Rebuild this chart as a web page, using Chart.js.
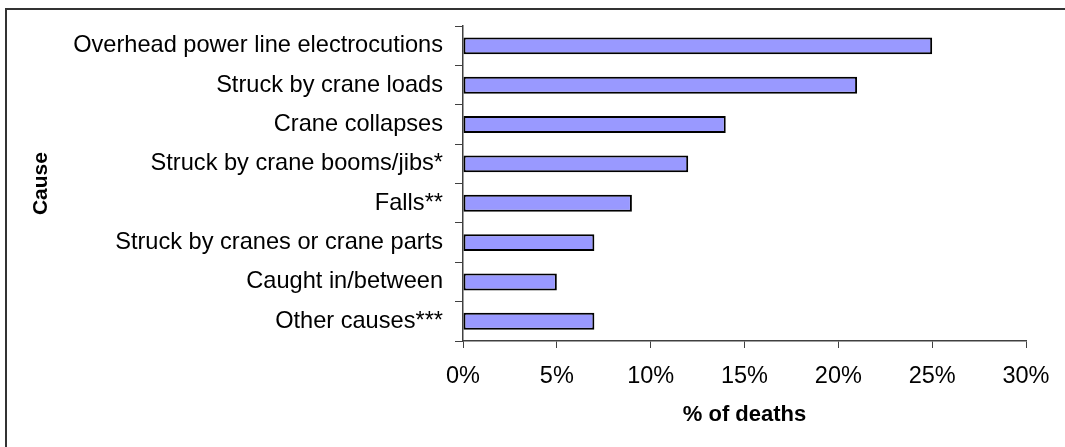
<!DOCTYPE html>
<html>
<head>
<meta charset="utf-8">
<script src="https://cdn.jsdelivr.net/npm/chart.js@4"></script>
<style>
    body { margin: 0; overflow: hidden; background: #fff; }
    #frame {
        position: absolute; left: 5px; top: 8px; width: 1100px; height: 500px;
        border-left: 2px solid #333; border-top: 2px solid #333;
    }
    #wrap { position: absolute; left: 0; top: 0; width: 1065px; height: 447px; }
</style>
</head>
<body>
<div id="frame"></div>
<div id="wrap"><canvas id="barChart"></canvas></div>
<script>
    // Data (percent of deaths)
    const causes = [
        "Overhead power line electrocutions",
        "Struck by crane loads",
        "Crane collapses",
        "Struck by crane booms/jibs*",
        "Falls**",
        "Struck by cranes or crane parts",
        "Caught in/between",
        "Other causes***"
    ];
    const deathShare = [25, 21, 14, 12, 9, 7, 5, 7];
    const xTicks = [0, 5, 10, 15, 20, 25, 30];

    const font = "'Liberation Sans', Arial, sans-serif";
    const axisColor = "#404040";

    new Chart("barChart", {
        type: "bar",
        data: {
            labels: causes,
            datasets: [{
                data: deathShare,
                backgroundColor: "#9999FF",
                borderColor: "#000",
                borderWidth: 2,
                borderSkipped: false,
                barPercentage: 0.43,
                categoryPercentage: 1,
            }],
        },
        options: {
            indexAxis: "y",
            responsive: true,
            maintainAspectRatio: false,
            animation: false,
            layout: { padding: { left: 0, top: 23.5, right: 39, bottom: 0 } },
            plugins: {
                legend: { display: false },
                tooltip: { enabled: false },
            },
            scales: {
                x: {
                    min: xTicks[0],
                    max: xTicks[xTicks.length - 1],
                    afterBuildTicks: (scale) => {
                        scale.ticks = xTicks.map((v) => ({ value: v }));
                    },
                    ticks: {
                        color: "#000",
                        padding: 14,
                        font: { family: font, size: 23.5 },
                        callback: (v) => v + "%",
                    },
                    grid: { drawOnChartArea: false, tickLength: 7, color: axisColor },
                    border: { color: axisColor, width: 1.5 },
                    title: {
                        display: true,
                        text: "% of deaths",
                        color: "#000",
                        font: { family: font, size: 22, weight: "bold" },
                        padding: { top: 0, bottom: 19 },
                    },
                    afterFit: (scale) => { scale.height = 106; },
                },
                y: {
                    ticks: {
                        color: "#000",
                        padding: 12,
                        font: { family: font, size: 23.6 },
                    },
                    grid: { drawOnChartArea: false, offset: true, tickLength: 8, color: axisColor },
                    border: { color: axisColor, width: 1.5 },
                    title: {
                        display: true,
                        text: "Cause",
                        color: "#000",
                        font: { family: font, size: 21, weight: "bold" },
                        padding: { top: 29, bottom: 0 },
                    },
                    afterFit: (scale) => { scale.width = 463; },
                },
            },
        },
    });
</script>
</body>
</html>
